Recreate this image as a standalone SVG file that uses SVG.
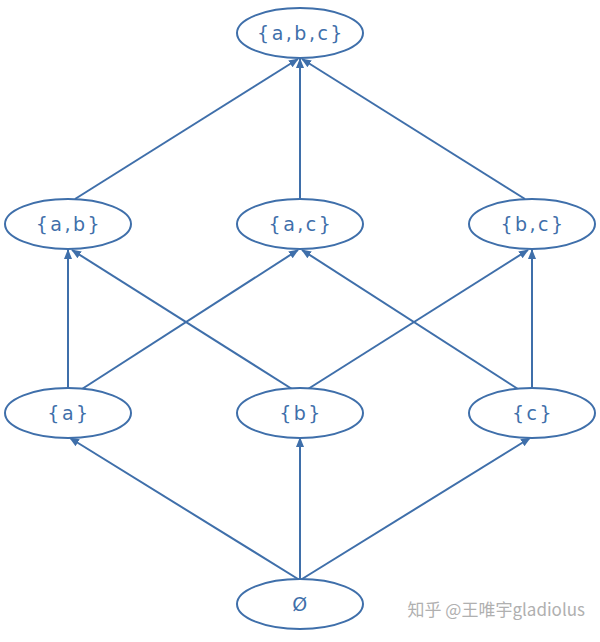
<svg xmlns="http://www.w3.org/2000/svg" width="600" height="642" viewBox="0 0 600 642">
<style>
.n ellipse{fill:#fff;stroke:#3f6faa;stroke-width:2}
.n text{font-family:"DejaVu Sans",sans-serif;font-size:19px;letter-spacing:2.5px;fill:#3f6faa;text-anchor:middle;dominant-baseline:central}
#edges line{stroke:#3f6faa;stroke-width:2;marker-end:url(#ar)}
</style>
<defs><marker id="ar" viewBox="0 0 10 10" refX="9" refY="5" markerWidth="5" markerHeight="5" orient="auto"><path d="M0,1 L10,5 L0,9 z" fill="#3f6faa"/></marker></defs>
<rect width="600" height="642" fill="#fff"/>
<g id="edges">
<line x1="75" y1="199" x2="298" y2="59"/>
<line x1="300" y1="200" x2="300" y2="59"/>
<line x1="525" y1="199" x2="302" y2="59"/>
<line x1="68" y1="388" x2="68" y2="250"/>
<line x1="82" y1="389" x2="298" y2="250"/>
<line x1="292" y1="389" x2="72" y2="250"/>
<line x1="308" y1="389" x2="528" y2="250"/>
<line x1="518" y1="389" x2="302" y2="250"/>
<line x1="532" y1="388" x2="532" y2="250"/>
<line x1="298" y1="579" x2="70" y2="438"/>
<line x1="300" y1="579" x2="300" y2="438"/>
<line x1="302" y1="579" x2="530" y2="438"/>
</g>
<g id="abc" class="n"><ellipse cx="300" cy="33" rx="63" ry="25"/><text x="301" y="33">{a,b,c}</text></g>
<g id="ab" class="n"><ellipse cx="68" cy="224" rx="63" ry="25"/><text x="69" y="224">{a,b}</text></g>
<g id="ac" class="n"><ellipse cx="300" cy="224" rx="63" ry="25"/><text x="301" y="224">{a,c}</text></g>
<g id="bc" class="n"><ellipse cx="532" cy="224" rx="63" ry="25"/><text x="533" y="224">{b,c}</text></g>
<g id="a" class="n"><ellipse cx="68" cy="413" rx="63" ry="25"/><text x="69" y="413">{a}</text></g>
<g id="b" class="n"><ellipse cx="300" cy="413" rx="63" ry="25"/><text x="301" y="413">{b}</text></g>
<g id="c" class="n"><ellipse cx="532" cy="413" rx="63" ry="25"/><text x="533" y="413">{c}</text></g>
<g id="empty" class="n"><ellipse cx="300" cy="604" rx="63" ry="25"/><text x="301" y="604">Ø</text></g>
<text x="585" y="616" text-anchor="end" font-family="'Noto Sans CJK SC',sans-serif" font-size="17" fill="#b0b0b0">知乎 @王唯宇gladiolus</text>
</svg>
